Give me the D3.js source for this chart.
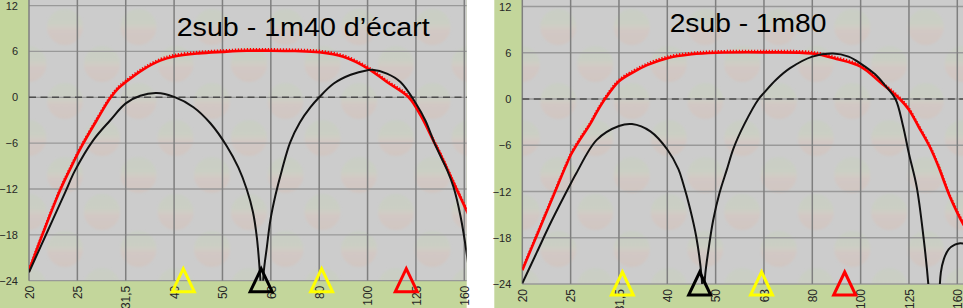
<!DOCTYPE html>
<html lang="fr">
<head>
  <meta charset="UTF-8">
  <title>2sub - écart</title>
  <style>
    html, body { margin: 0; padding: 0; background: #fff; }
    svg { display: block; }
  </style>
</head>
<body>
  <svg id="svg" width="963" height="308"></svg>
  <script src="https://d3js.org/d3.v7.min.js"></script>
  <script>
    // category axis (1/3 octave, Hz) and level ticks (dB)
    const categories = ['20', '25', '31,5', '40', '50', '63', '80', '100', '125', '160']
    const yTicks = [-24, -18, -12, -6, 0, 6, 12]

    // [position on the category axis, dB]
    const redLeft = [[0, -22.7], [0.3, -17.6], [0.64, -12.2], [0.88, -9.0], [1.09, -6.4], [1.4, -3.0], [1.68, -0.1], [1.85, 1.2],
      [2, 2.0], [2.35, 3.6], [2.71, 4.8], [3, 5.35], [3.5, 5.75], [4, 5.95], [4.5, 6.1], [5, 6.1], [5.5, 6.05], [6, 5.9],
      [6.5, 5.3], [7, 3.8], [7.4, 2.0], [7.85, 0], [8.1, -2.4], [8.37, -5.8], [8.5, -7.4], [8.75, -10.8], [9.06, -15], [9.12, -15.8]]
    const blackLeft1 = [[0, -22.9], [0.4, -17.3], [0.75, -12.4], [0.95, -9.6], [1.33, -5.6], [1.68, -3.0], [2, -0.8], [2.3, 0.2],
      [2.64, 0.55], [3, 0.05], [3.4, -1.3], [3.75, -3.4], [4.09, -6.4], [4.33, -9.2], [4.5, -12.0], [4.63, -15], [4.71, -18.3],
      [4.78, -23.5], [4.81, -27]]
    const blackLeft2 = [[4.83, -27], [4.85, -23.1], [4.92, -19.5], [4.99, -16.1], [5.1, -12.7], [5.23, -9.5], [5.4, -5.9],
      [5.6, -3.3], [5.82, -1.3], [6, 0], [6.3, 1.8], [6.65, 2.95], [7, 3.55], [7.1, 3.6], [7.4, 3.1], [7.68, 2.0], [8, -0.8],
      [8.2, -3.1], [8.37, -5.8], [8.5, -7.6], [8.65, -9.6], [8.78, -11.8], [8.92, -15.5], [9.06, -20.9], [9.12, -24]]

    const redRight = [[0, -22.2], [0.3, -17.7], [0.6, -13.2], [0.9, -8.7], [1, -7.3], [1.2, -5.2], [1.4, -3.3], [1.55, -1.6],
      [1.71, 0], [2, 2.3], [2.3, 3.5], [2.58, 4.4], [3, 5.3], [3.5, 5.8], [4, 6.0], [5, 6.05], [6, 5.9], [6.5, 5.2], [7, 4.2],
      [7.4, 2.2], [7.81, 0], [8, -1.4], [8.2, -3.6], [8.43, -6.2], [8.6, -8.6], [8.85, -12.7], [9.12, -16.2], [9.16, -16.6]]
    const blackRight1 = [[0, -23.9], [0.3, -19.9], [0.6, -15.9], [1, -11.0], [1.12, -9.6], [1.54, -5.3], [2, -3.5], [2.27, -3.25],
      [2.65, -4.2], [3, -6.55], [3.23, -9.1], [3.33, -11.0], [3.47, -14.2], [3.6, -17.9], [3.71, -23.1], [3.74, -27]]
    const blackRight2 = [[3.76, -27], [3.78, -23.1], [3.86, -19.2], [3.95, -15.7], [4.08, -12.2], [4.23, -9.2], [4.37, -6.4],
      [4.6, -3.2], [4.89, 0], [5, 0.8], [5.25, 2.5], [5.54, 4.0], [6, 5.5], [6.43, 5.9], [6.75, 5.5], [7, 4.6], [7.3, 3.2],
      [7.5, 1.8], [7.72, 0], [7.87, -3.3], [8, -7.1], [8.16, -11.4], [8.3, -17.9], [8.4, -24], [8.43, -27]]
    const blackRight3 = [[8.62, -27], [8.66, -22.5], [8.72, -20.8], [8.82, -19.5], [8.95, -18.9], [9.06, -18.7], [9.16, -18.8]]

    // triangles under the axis: [position, colour]
    const marksLeft = [[3.19, '#ffff00'], [4.8, '#000000'], [6.05, '#ffff00'], [7.8, '#ff0000']]
    const marksRight = [[2.07, '#ffff00'], [3.67, '#000000'], [4.95, '#ffff00'], [6.67, '#ff0000']]

    const panels = [
      { id: 'l', left: 0, right: 466.7, plotLeft: 29, lastTick: 464.3, top: 5.6, bottom: 280.7,
        title: '2sub - 1m40 d’écart', titleX: 176.7, titleY: 36, titleW: 253,
        red: redLeft, black: [blackLeft1, blackLeft2], marks: marksLeft },
      { id: 'r', left: 494.3, right: 963, plotLeft: 522.3, lastTick: 957.3, top: 6.5, bottom: 284,
        title: '2sub - 1m80', titleX: 669.7, titleY: 32, titleW: 156.7,
        red: redRight, black: [blackRight1, blackRight2, blackRight3], marks: marksRight }
    ]

    const svg = d3.select('#svg')
    const defs = svg.append('defs')

    // washed-out logo in the plot background
    const grad = defs.append('linearGradient').attr('id', 'logo').attr('x1', 0).attr('y1', 0).attr('x2', 0).attr('y2', 1)
    grad.append('stop').attr('offset', '0%').attr('stop-color', '#c9cec5')
    grad.append('stop').attr('offset', '40%').attr('stop-color', '#cbcfc4')
    grad.append('stop').attr('offset', '50%').attr('stop-color', '#d0cdc5')
    grad.append('stop').attr('offset', '60%').attr('stop-color', '#d2c8c4')
    grad.append('stop').attr('offset', '100%').attr('stop-color', '#d0c6c2')
    defs.append('filter').attr('id', 'soft').append('feGaussianBlur').attr('stdDeviation', 1.2)

    panels.forEach(p => {
      const x = d3.scaleLinear().domain([0, 9]).range([p.plotLeft, p.lastTick])
      const y = d3.scaleLinear().domain([-24, 12]).range([p.bottom, p.top])

      const g = svg.append('g')

      // green frame + grey plot area
      g.append('rect').attr('x', p.left).attr('y', 0).attr('width', p.right - p.left).attr('height', 308).attr('fill', '#c3d69b')
      g.append('rect').attr('x', p.plotLeft).attr('y', 0).attr('width', p.right - p.plotLeft).attr('height', p.bottom)
        .attr('fill', '#cccccc')

      defs.append('clipPath').attr('id', 'clip-' + p.id)
        .append('rect').attr('x', p.plotLeft).attr('y', 0).attr('width', p.right - p.plotLeft).attr('height', p.bottom)

      const wm = g.append('g').attr('clip-path', `url(#clip-${p.id})`).append('g').attr('filter', 'url(#soft)')
      for (let k = 0; k < 8; k++) {
        for (let j = -1; j < 7; j++) {
          wm.append('circle')
            .attr('cx', p.plotLeft + 36 + (k % 2) * 37 + j * 73.5)
            .attr('cy', 27 + k * 37)
            .attr('r', 18)
            .attr('fill', 'url(#logo)')
        }
      }

      // grid
      g.append('g').selectAll('line').data(yTicks).enter().append('line')
        .attr('x1', p.plotLeft).attr('x2', p.right)
        .attr('y1', d => y(d)).attr('y2', d => y(d))
        .attr('stroke', '#999').attr('stroke-width', 1.3)
      g.append('g').selectAll('line').data(d3.range(categories.length)).enter().append('line')
        .attr('x1', d => x(d)).attr('x2', d => x(d))
        .attr('y1', 0).attr('y2', p.bottom)
        .attr('stroke', '#7f7f7f').attr('stroke-width', 1.5)

      g.append('line')
        .attr('x1', p.plotLeft).attr('x2', p.right).attr('y1', y(0)).attr('y2', y(0))
        .attr('stroke', '#4d4d4d').attr('stroke-width', 1.6).attr('stroke-dasharray', '7,4.5')

      // axes
      const yAxis = g.append('g').attr('transform', `translate(${p.plotLeft},0)`)
        .call(d3.axisLeft(y).tickValues(yTicks).tickSize(0).tickPadding(11))
      yAxis.select('.domain').remove()
      yAxis.selectAll('text').attr('font-family', 'Liberation Sans, Arial, sans-serif').attr('font-size', 11).attr('fill', '#262626')

      const xAxis = g.append('g').attr('transform', `translate(0,${p.bottom})`)
        .call(d3.axisBottom(x).tickValues(d3.range(categories.length)).tickFormat(i => categories[i]).tickSize(0))
      xAxis.select('.domain').remove()
      xAxis.selectAll('text')
        .attr('font-family', 'Liberation Sans, Arial, sans-serif').attr('font-size', 12).attr('fill', '#262626')
        .attr('transform', 'rotate(-90)').attr('x', -5).attr('y', 0).attr('dy', '0.35em')
        .style('text-anchor', 'end')

      // curves
      const line = d3.line().x(d => x(d[0])).y(d => y(d[1])).curve(d3.curveCatmullRom.alpha(0.5))
      const curves = g.append('g').attr('clip-path', `url(#clip-${p.id})`)
      curves.append('path').datum(p.red)
        .attr('d', line).attr('fill', 'none').attr('stroke', '#ff0000').attr('stroke-width', 2.6)
      curves.append('path').datum(p.red)
        .attr('d', line).attr('fill', 'none').attr('stroke', '#ff0000').attr('stroke-width', 2)
        .attr('stroke-dasharray', '1.3,1.7').attr('transform', 'translate(0,-1.6)')
      curves.selectAll('.blk').data(p.black).enter().append('path')
        .attr('class', 'blk')
        .attr('d', line).attr('fill', 'none').attr('stroke', '#111').attr('stroke-width', 2)

      // triangles
      const tri = d => d3.line()([[x(d[0]), p.bottom - 12], [x(d[0]) + 11, p.bottom + 11], [x(d[0]) - 11, p.bottom + 11]]) + 'Z'
      g.append('g').selectAll('path').data(p.marks).enter().append('path')
        .attr('d', tri).attr('fill', 'none').attr('stroke', d => d[1]).attr('stroke-width', 3).attr('stroke-linejoin', 'miter')

      // title
      g.append('text').attr('x', p.titleX).attr('y', p.titleY)
        .attr('font-family', 'Liberation Sans, Arial, sans-serif').attr('font-size', 25.5)
        .attr('textLength', p.titleW).attr('lengthAdjust', 'spacingAndGlyphs')
        .attr('fill', '#000').text(p.title)
    })
  </script>
</body>
</html>
